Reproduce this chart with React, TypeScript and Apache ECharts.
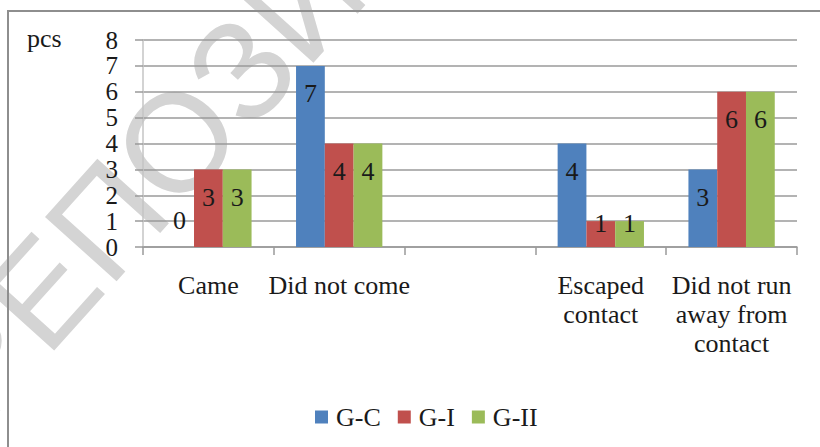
import React, { useEffect, useRef } from "react";
import * as echarts from "echarts";

// Categories along the x axis (the third slot is intentionally left empty)
const categories: string[] = [
  "Came",
  "Did not come",
  "",
  "Escaped\ncontact",
  "Did not run\naway from\ncontact",
];

const seriesNames: string[] = ["G-C", "G-I", "G-II"];

// Counts per group (null = no bar)
const gC: (number | null)[] = [0, 7, null, 4, 3];
const gI: (number | null)[] = [3, 4, null, 1, 6];
const gII: (number | null)[] = [3, 4, null, 1, 6];

const yTicks: number[] = [0, 1, 2, 3, 4, 5, 6, 7, 8];

const colors: string[] = ["#4F81BD", "#C0504D", "#9BBB59"];

const SERIF = "Times New Roman, Liberation Serif, DejaVu Serif, serif";

// Value labels sit just inside the bar top; very short bars get them lifted.
function toItems(values: (number | null)[]) {
  return values.map((v) => {
    if (v === null) return null;
    if (v === 0) {
      return { value: v, label: { position: "top", distance: 14 } };
    }
    if (v === 1) {
      return { value: v, label: { position: "inside", offset: [0, -11] } };
    }
    return { value: v };
  });
}

export default function App() {
  const ref = useRef<HTMLDivElement>(null);

  useEffect(() => {
    if (!ref.current) return;
    const chart = echarts.init(ref.current, null, { renderer: "svg" });

    const seriesData = [gC, gI, gII];
    const angle = (48 * Math.PI) / 180;

    chart.setOption({
      animation: false,
      backgroundColor: "#ffffff",
      color: colors,
      textStyle: { fontFamily: SERIF },
      grid: { left: 143, right: 23, top: 40, bottom: 200, containLabel: false },
      legend: {
        data: seriesNames,
        left: 310,
        top: 399,
        icon: "rect",
        itemWidth: 13,
        itemHeight: 13,
        itemGap: 17,
        textStyle: {
          fontFamily: SERIF,
          fontSize: 26,
          color: "#1a1a1a",
          padding: [0, 0, 0, 3],
        },
      },
      xAxis: {
        type: "category",
        data: categories,
        axisLine: { lineStyle: { color: "#9a9a9a", width: 1.5 } },
        axisTick: { show: true, length: 8, lineStyle: { color: "#9a9a9a", width: 1.5 } },
        axisLabel: {
          interval: 0,
          margin: 24,
          fontFamily: SERIF,
          fontSize: 26,
          lineHeight: 29,
          color: "#1a1a1a",
        },
      },
      yAxis: {
        type: "value",
        min: yTicks[0],
        max: yTicks[yTicks.length - 1],
        interval: 1,
        axisLine: { show: true, lineStyle: { color: "#c4c4c4", width: 1.5 } },
        axisTick: { show: true, length: 8, lineStyle: { color: "#9a9a9a", width: 1.5 } },
        splitLine: { lineStyle: { color: "#9a9a9a", width: 1.5 } },
        axisLabel: {
          margin: 25,
          fontFamily: SERIF,
          fontSize: 25,
          lineHeight: 24,
          color: "#1a1a1a",
        },
      },
      series: seriesNames.map((name, i) => ({
        name,
        type: "bar",
        data: toItems(seriesData[i]),
        barGap: "0%",
        barCategoryGap: "34%",
        label: {
          show: true,
          position: "insideTop",
          distance: 15,
          fontFamily: SERIF,
          fontSize: 26,
          color: "#1a1a1a",
        },
      })),
      graphic: [
        {
          type: "text",
          z: -10,
          silent: true,
          x: -52,
          y: 396,
          rotation: angle,
          style: {
            text: "РЕПОЗИТОРИЙ",
            fontFamily: "Liberation Sans, Arial, sans-serif",
            fontSize: 140,
            fill: "#d4d4d4",
            align: "left",
            verticalAlign: "middle",
          },
        },
        {
          type: "rect",
          silent: true,
          shape: { x: 8, y: 11, width: 840, height: 460 },
          style: { fill: "none", stroke: "#8e8e8e", lineWidth: 2 },
        },
        {
          type: "text",
          x: 27,
          y: 38,
          style: {
            text: "pcs",
            fontFamily: SERIF,
            fontSize: 26,
            fill: "#1a1a1a",
            verticalAlign: "middle",
          },
        },
      ],
    });

    return () => chart.dispose();
  }, []);

  return (
    <div
      ref={ref}
      style={{ position: "fixed", left: 0, top: 0, width: 820, height: 447 }}
    />
  );
}
